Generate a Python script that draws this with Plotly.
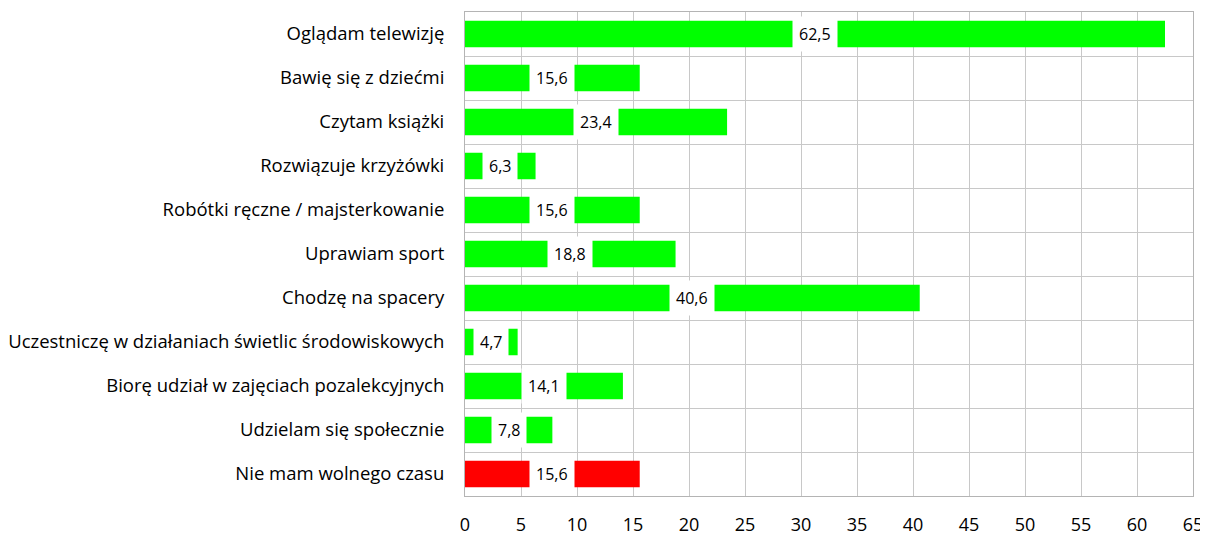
import plotly.graph_objects as go

categories = [
    "Oglądam telewizję",
    "Bawię się z dziećmi",
    "Czytam książki",
    "Rozwiązuje krzyżówki",
    "Robótki ręczne / majsterkowanie",
    "Uprawiam sport",
    "Chodzę na spacery",
    "Uczestniczę w działaniach świetlic środowiskowych",
    "Biorę udział w zajęciach pozalekcyjnych",
    "Udzielam się społecznie",
    "Nie mam wolnego czasu",
]
values = [62.5, 15.6, 23.4, 6.3, 15.6, 18.8, 40.6, 4.7, 14.1, 7.8, 15.6]
colors = ["#00FF00"] * 10 + ["#FF0000"]
tick_vals = list(range(0, 70, 5))

fig = go.Figure()
fig.add_trace(go.Bar(
    y=categories, x=values, orientation="h",
    marker=dict(color=colors, line=dict(width=0)),
    hoverinfo="skip",
))

for c, v in zip(categories, values):
    fig.add_annotation(
        x=v / 2, y=c, text=f"{v:.1f}".replace(".", ","),
        showarrow=False, bgcolor="white", borderpad=6,
        font=dict(family="Open Sans", size=16, color="black"),
    )

# page body has an 8px default margin, so the figure is offset by 8px
fig.update_layout(
    width=1200, height=528,
    margin=dict(l=457, r=15, t=4, b=40),
    paper_bgcolor="white", plot_bgcolor="white",
    bargap=0.4, showlegend=False,
    font=dict(family="Open Sans", color="black"),
)
fig.update_xaxes(
    range=[0, 65], tickvals=tick_vals, ticks="", automargin=False,
    showgrid=True, gridcolor="#c8c8c8", gridwidth=1,
    showline=True, linecolor="#b4b4b4", mirror=True, linewidth=1,
    zeroline=False, tickfont=dict(size=18), ticklabelstandoff=12,
)
fig.update_yaxes(
    type="category", autorange="reversed", tickson="boundaries", automargin=False,
    showgrid=True, gridcolor="#c8c8c8", gridwidth=1, ticks="",
    showline=True, linecolor="#b4b4b4", mirror=True, linewidth=1,
    tickfont=dict(size=18.5), ticklabelstandoff=16,
)

fig.write_html("out.html")
